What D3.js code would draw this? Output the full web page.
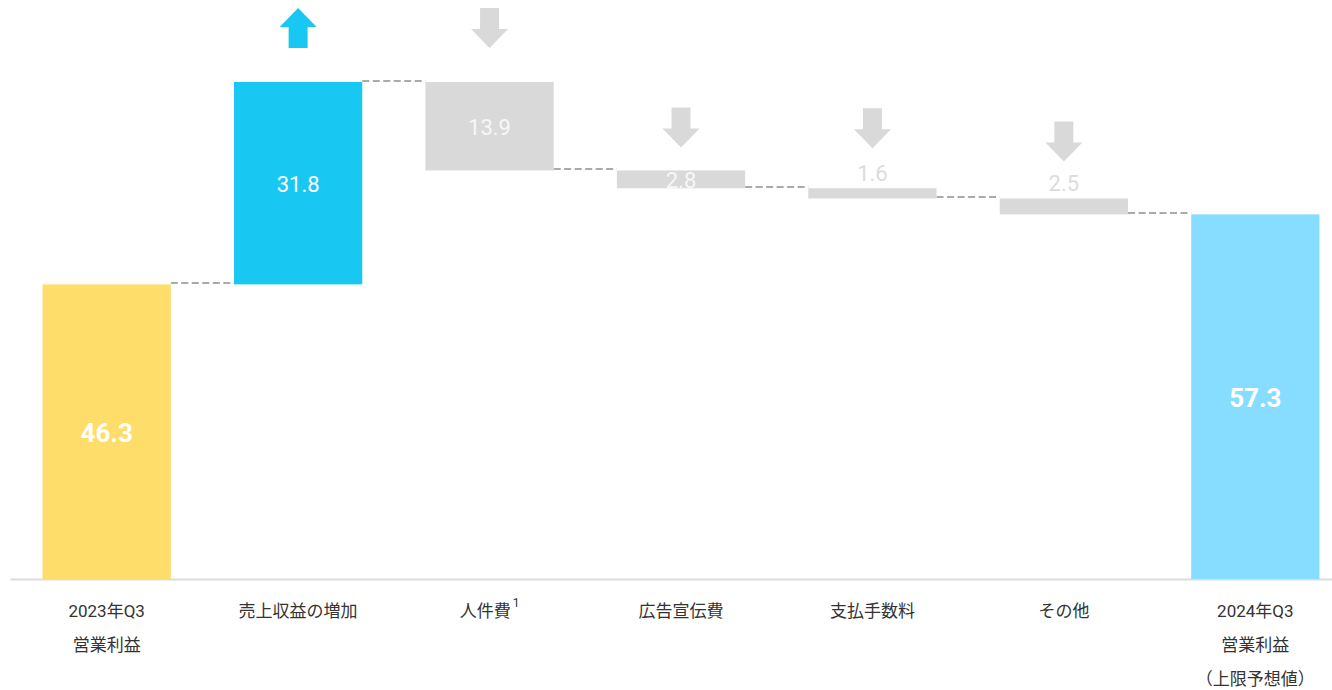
<!DOCTYPE html>
<html>
<head>
<meta charset="utf-8">
<script src="https://cdn.jsdelivr.net/npm/d3@7"></script>
<style>
  body { margin: 0; background: #fff; }
  svg { display: block; }
</style>
</head>
<body>
<script>
var width = 1332;
var height = 690;
var baseY = 579;

// data
var categories = ["2023年Q3\n営業利益", "売上収益の増加", "人件費", "広告宣伝費", "支払手数料", "その他", "2024年Q3\n営業利益\n（上限予想値）"];
var values = [46.3, 31.8, -13.9, -2.8, -1.6, -2.5, 57.3];
var kinds = ["total", "up", "down", "down", "down", "down", "total"];
var footnotes = ["", "", "1", "", "", "", ""];

// gap between arrow and top of its bar
var arrowGap = [0, 34, 34, 23, 40, 37, 0];

var colors = { start: "#ffdd6b", up: "#19c8f2", down: "#d9d9d9", end: "#86ddff" };

// build running totals
var rows = [];
var running = 0;
values.forEach(function(v, i) {
  var lo, hi;
  if (kinds[i] === "total") {
    lo = 0; hi = v; running = v;
  } else {
    var next = running + v;
    lo = Math.min(running, next); hi = Math.max(running, next);
    running = next;
  }
  rows.push({ cat: categories[i], value: v, kind: kinds[i], lo: lo, hi: hi, end: running, i: i });
});

var xScale = d3.scaleBand()
  .domain(categories)
  .range([10, 1352])
  .paddingInner(0.33)
  .paddingOuter(0.17);

var yScale = d3.scaleLinear()
  .domain([0, 78.1])
  .range([baseY, 82]);

var svg = d3.select("body")
  .append("svg")
  .attr("width", width)
  .attr("height", height)
  .style("font-family", "Roboto, 'Noto Sans CJK JP', sans-serif");

function barColor(d) {
  if (d.kind === "total") return d.i === 0 ? colors.start : colors.end;
  return d.kind === "up" ? colors.up : colors.down;
}

// x axis
var xAxis = d3.axisBottom(xScale).tickSize(0).tickPadding(0);
var axisG = svg.append("g")
  .attr("transform", "translate(0," + baseY + ")")
  .call(xAxis);
axisG.select(".domain")
  .attr("stroke", "#dcdcdc")
  .attr("stroke-width", 2);
axisG.selectAll(".tick text").each(function(d, i) {
  var t = d3.select(this);
  var lines = d.split("\n");
  t.text(null)
    .attr("y", 0)
    .attr("dy", null)
    .attr("fill", "#333")
    .attr("font-size", "17px")
    .attr("font-family", "Roboto, 'Noto Sans CJK JP', sans-serif");
  lines.forEach(function(line, k) {
    t.append("tspan")
      .attr("x", 0)
      .attr("y", 38 + k * 34)
      .text(line);
  });
  if (footnotes[i]) {
    t.append("tspan")
      .attr("dx", 2)
      .attr("dy", -10)
      .attr("font-size", "12px")
      .text(footnotes[i]);
  }
});

// connectors
svg.selectAll("line.conn")
  .data(rows.slice(0, rows.length - 1))
  .enter()
  .append("line")
  .attr("class", "conn")
  .attr("x1", function(d) { return xScale(d.cat) + xScale.bandwidth(); })
  .attr("x2", function(d) { return xScale(categories[d.i + 1]); })
  .attr("y1", function(d) { return Math.round(yScale(d.end)) - 1; })
  .attr("y2", function(d) { return Math.round(yScale(d.end)) - 1; })
  .attr("stroke", "#aaaaaa")
  .attr("stroke-width", 2)
  .attr("stroke-dasharray", "7,3.5");

// bars
svg.selectAll("rect.bar")
  .data(rows)
  .enter()
  .append("rect")
  .attr("class", "bar")
  .attr("x", function(d) { return xScale(d.cat); })
  .attr("y", function(d) { return yScale(d.hi); })
  .attr("width", xScale.bandwidth())
  .attr("height", function(d) { return yScale(d.lo) - yScale(d.hi); })
  .attr("fill", barColor);

// value labels
function isInside(d) { return yScale(d.lo) - yScale(d.hi) >= 17; }
svg.selectAll("text.val")
  .data(rows)
  .enter()
  .append("text")
  .attr("class", "val")
  .attr("x", function(d) { return xScale(d.cat) + xScale.bandwidth() / 2; })
  .attr("y", function(d) {
    if (isInside(d)) return (yScale(d.lo) + yScale(d.hi)) / 2 + 1;
    return yScale(d.hi) - 7;
  })
  .attr("dy", function(d) { return isInside(d) ? "0.36em" : null; })
  .attr("text-anchor", "middle")
  .attr("font-size", function(d) { return d.kind === "total" ? "26px" : "22px"; })
  .attr("font-weight", function(d) { return d.kind === "total" ? "bold" : "normal"; })
  .attr("fill", function(d) {
    if (d.kind === "down") return isInside(d) ? "#f7f7f7" : "#dcdcdc";
    return "#fff";
  })
  .text(function(d) { return Math.abs(d.value).toFixed(1); });

// arrows
var arrowPath = "M-9.5,0 L9.5,0 L9.5,21 L18.5,21 L0,40 L-18.5,21 L-9.5,21 Z";
svg.selectAll("path.arrow")
  .data(rows.filter(function(d) { return d.kind !== "total"; }))
  .enter()
  .append("path")
  .attr("class", "arrow")
  .attr("d", arrowPath)
  .attr("transform", function(d) {
    var cx = xScale(d.cat) + xScale.bandwidth() / 2;
    var bottom = yScale(d.hi) - arrowGap[d.i];
    if (d.kind === "up") return "translate(" + cx + "," + bottom + ") scale(1,-1)";
    return "translate(" + cx + "," + (bottom - 40) + ")";
  })
  .attr("fill", function(d) { return d.kind === "up" ? colors.up : colors.down; });
</script>
</body>
</html>
